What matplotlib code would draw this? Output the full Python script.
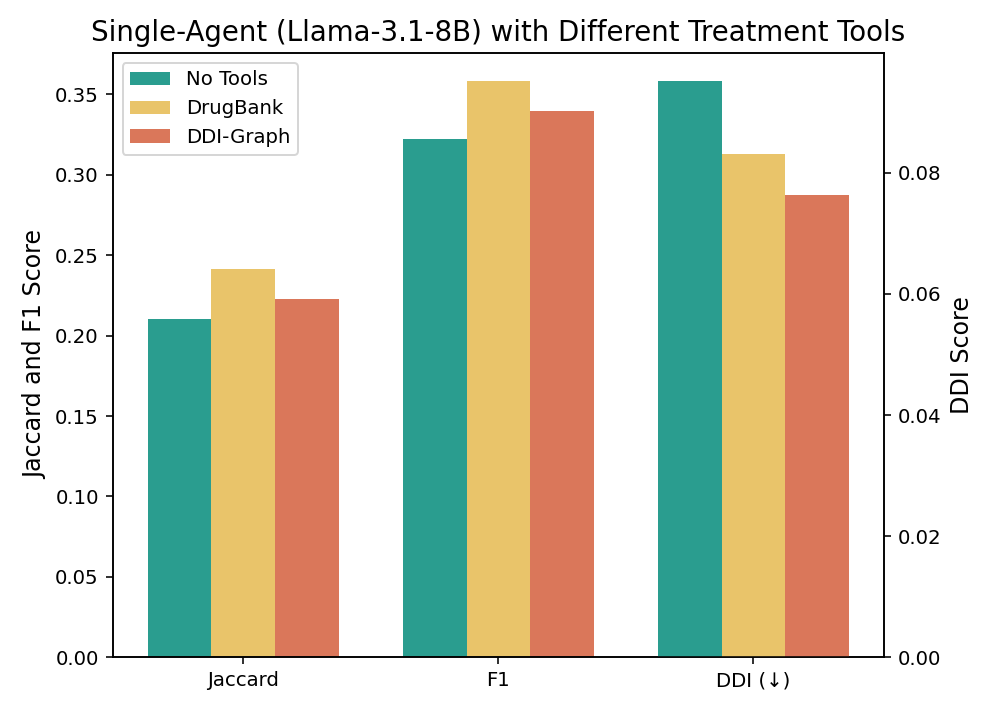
import numpy as np
import matplotlib.pyplot as plt

metrics = ['Jaccard', 'F1', 'DDI (↓)']
methods = ['No Tools', 'DrugBank', 'DDI-Graph']
colors = ['#2a9d8f', '#e9c46a', '#da775a']

# Jaccard and F1 on the left axis, DDI on the right axis
jaccard = [0.2103, 0.2414, 0.2227]
f1 = [0.3225, 0.3581, 0.3400]
ddi = [0.0951, 0.0831, 0.0764]

x = np.arange(len(metrics))
width = 0.25

fig, ax1 = plt.subplots(figsize=(7, 5), dpi=142.4)
ax2 = ax1.twinx()

for i, m in enumerate(methods):
    pos = x + (i - 1) * width
    ax1.bar(pos[:2], [jaccard[i], f1[i]], width, color=colors[i], label=m)
    ax2.bar(pos[2], ddi[i], width, color=colors[i])

ax1.set_xticks(x)
ax1.set_xticklabels(metrics)
ax1.set_ylabel('Jaccard and F1 Score', fontsize=12)
ax2.set_ylabel('DDI Score', fontsize=12)
ax1.set_title('Single-Agent (Llama-3.1-8B) with Different Treatment Tools', fontsize=14)
ax1.legend(loc='upper left')

plt.subplots_adjust(left=0.113, right=0.887, bottom=0.077, top=0.926)
plt.savefig('out.png', dpi=142.4)
